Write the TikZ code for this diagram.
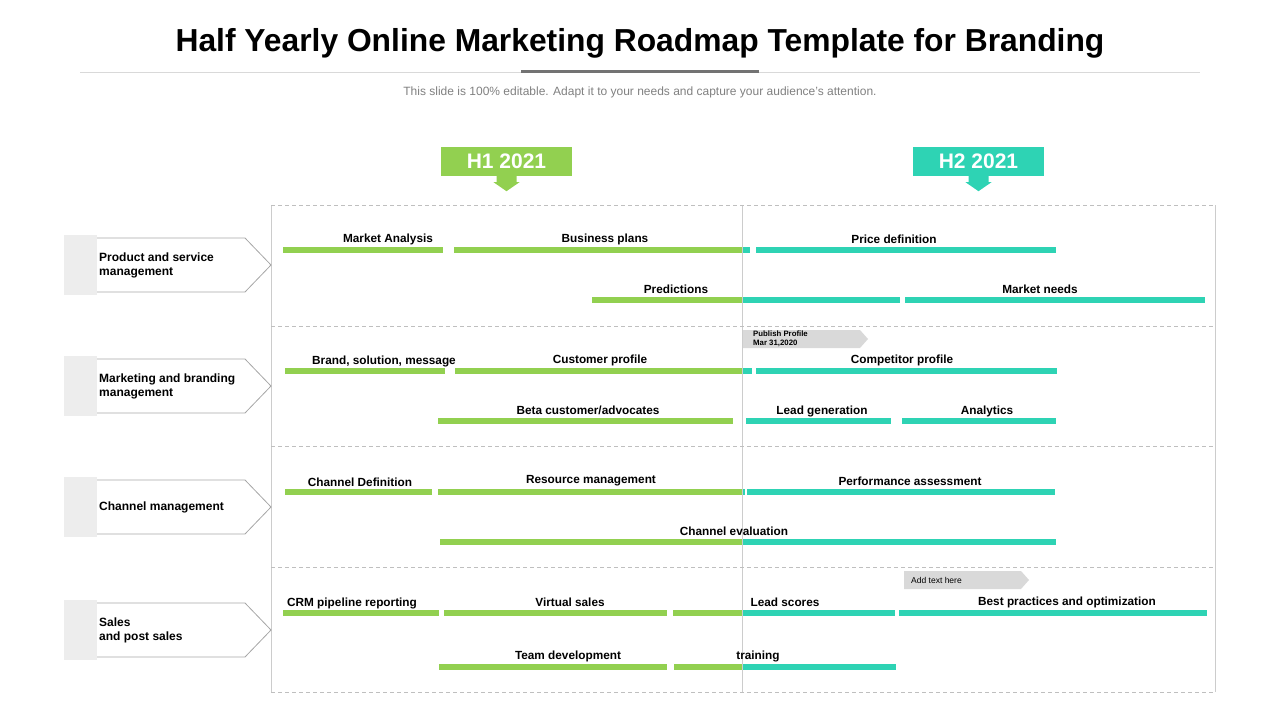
\documentclass[tikz,border=0pt]{standalone}
\usepackage{fontspec}
\setmainfont{Liberation Sans}
\usetikzlibrary{positioning}
\definecolor{hgreen}{RGB}{146,208,80}
\definecolor{hteal}{RGB}{46,211,180}
\definecolor{callgray}{RGB}{217,217,217}

\begin{document}
\begin{tikzpicture}[x=1pt,y=-1pt,
    gbar/.style={fill=hgreen,inner sep=0,minimum height=6,anchor=west},
    tbar/.style={fill=hteal,inner sep=0,minimum height=6,anchor=west},
    task/.style={font=\bfseries\fontsize{11.8}{13}\selectfont,inner sep=0},
    half/.style={text=white,font=\bfseries\fontsize{21}{24}\selectfont,minimum width=131,minimum height=29,inner sep=0},
    tab/.style={fill=black!7,minimum width=33,minimum height=60,inner sep=0,anchor=west},
    tabline/.style={draw=black!35,line width=0.8},
    rowtxt/.style={font=\bfseries\fontsize{12}{14.2}\selectfont,align=left,anchor=west,inner sep=0},
    sep/.style={draw=black!25,dash pattern=on 4pt off 3pt,line width=0.8},
    frame/.style={draw=black!20,line width=0.8},
    callout/.style={fill=callgray},
    calltxt/.style={font=\fontsize{8.5}{9.5}\selectfont,align=left,anchor=west,inner sep=0}]
    \useasboundingbox (0,0) rectangle (1280,720);

    % title
    \node[font=\bfseries\fontsize{31.8}{36}\selectfont] (title) at (640,43) {Half Yearly Online Marketing Roadmap Template for Branding};
    \draw[black!15,line width=0.8] (80,72) -- (1200,72);
    \draw[black!55,line width=3] (521,71) -- (759,71);
    \node[text=black!50,font=\fontsize{12}{14}\selectfont] (sub) at (640,92) {This slide is 100\% editable. Adapt it to your needs and capture your audience's attention.};

    % half year headers
    \node[half,fill=hgreen] (h1) at (506.5,161.5) {H1 2021};
    \node[half,fill=hteal] (h2) at (978.5,161.5) {H2 2021};
    \fill[hgreen] (h1.south) ++(-10,0) -- ++(0,6) -- ++(-3,0) -- ++(13,9) -- ++(13,-9) -- ++(-3,0) -- ++(0,-6) -- cycle;
    \fill[hteal] (h2.south) ++(-10,0) -- ++(0,6) -- ++(-3,0) -- ++(13,9) -- ++(13,-9) -- ++(-3,0) -- ++(0,-6) -- cycle;

    % grid
    \draw[frame] (271,205) -- (271,692);
    \draw[frame] (1215,205) -- (1215,692);
    \draw[frame] (742,205) -- (742,692);
    \draw[sep] (271,205) -- (1215,205);
    \draw[sep] (271,326) -- (1215,326);
    \draw[sep] (271,446) -- (1215,446);
    \draw[sep] (271,567) -- (1215,567);
    \draw[sep] (271,692) -- (1215,692);

    % row tabs
    \node[tab] (t1) at (64,265) {};
    \draw[tabline] (97,238) -- (245,238) -- (271,265) -- (245,292) -- (97,292);
    \node[rowtxt] (r1) at (99,265.5) {Product and service\\management};
    \node[tab] (t2) at (64,386) {};
    \draw[tabline] (97,359) -- (245,359) -- (271,386) -- (245,413) -- (97,413);
    \node[rowtxt] (r2) at (99,386.5) {Marketing and branding\\management};
    \node[tab] (t3) at (64,507) {};
    \draw[tabline] (97,480) -- (245,480) -- (271,507) -- (245,534) -- (97,534);
    \node[rowtxt] (r3) at (99,507.5) {Channel management};
    \node[tab] (t4) at (64,630) {};
    \draw[tabline] (97,603) -- (245,603) -- (271,630) -- (245,657) -- (97,657);
    \node[rowtxt] (r4) at (99,630.5) {Sales\\and post sales};

    % callouts
    \fill[callout] (743,330) -- (860,330) -- (868,339) -- (860,348) -- (743,348) -- cycle;
    \node[calltxt,font=\bfseries\fontsize{7.8}{9}\selectfont] (pub) at (753,339) {Publish Profile\\Mar 31,2020};
    \fill[callout] (904,571) -- (1021,571) -- (1029,580) -- (1021,589) -- (904,589) -- cycle;
    \node[calltxt] (add) at (911,580.5) {Add text here};

    % product and service
    \node[gbar,minimum width=160] (ma) at (283,250) {};
    \node[gbar,minimum width=288] (bp) at (454,250) {};
    \node[tbar,minimum width=7,right=0pt of bp] (bpb) {};
    \node[tbar,minimum width=300] (pd) at (756,250) {};
    \node[gbar,minimum width=150] (pr) at (592,300) {};
    \node[tbar,minimum width=157,right=0pt of pr] (prb) {};
    \node[tbar,minimum width=300] (mn) at (905,300) {};
    \node[task] (ma-t) at (388,239.5) {Market Analysis};
    \node[task] (bp-t) at (605,239.5) {Business plans};
    \node[task] (pd-t) at (894,239.5) {Price definition};
    \node[task] (pr-t) at (676,289.5) {Predictions};
    \node[task] (mn-t) at (1040,289.5) {Market needs};

    % marketing and branding
    \node[gbar,minimum width=160] (bs) at (285,371) {};
    \node[gbar,minimum width=287] (cp) at (455,371) {};
    \node[tbar,minimum width=9,right=0pt of cp] (cpb) {};
    \node[tbar,minimum width=301] (co) at (756,371) {};
    \node[gbar,minimum width=295] (bc) at (438,421) {};
    \node[tbar,minimum width=145] (lg) at (746,421) {};
    \node[tbar,minimum width=154] (an) at (902,421) {};
    \node[task] (bs-t) at (384,361) {Brand, solution, message};
    \node[task] (cp-t) at (600,360.5) {Customer profile};
    \node[task] (co-t) at (902,360.5) {Competitor profile};
    \node[task] (bc-t) at (588,410.5) {Beta customer/advocates};
    \node[task] (lg-t) at (822,411) {Lead generation};
    \node[task] (an-t) at (987,411) {Analytics};

    % channel
    \node[gbar,minimum width=147] (cd) at (285,492) {};
    \node[gbar,minimum width=304] (rm) at (438,492) {};
    \node[tbar,minimum width=2,right=0pt of rm] (rmb) {};
    \node[tbar,minimum width=308] (pa) at (747,492) {};
    \node[gbar,minimum width=302] (ce) at (440,542) {};
    \node[tbar,minimum width=313,right=0pt of ce] (ceb) {};
    \node[task] (cd-t) at (360,482) {Channel Definition};
    \node[task] (rm-t) at (591,481) {Resource management};
    \node[task] (pa-t) at (910,481) {Performance assessment};
    \node[task] (ce-t) at (734,531) {Channel evaluation};

    % sales
    \node[gbar,minimum width=156] (crm) at (283,613) {};
    \node[gbar,minimum width=223] (vs) at (444,613) {};
    \node[gbar,minimum width=69] (ls) at (673,613) {};
    \node[tbar,minimum width=152,right=0pt of ls] (lsb) {};
    \node[tbar,minimum width=308] (bpo) at (899,613) {};
    \node[gbar,minimum width=228] (td) at (439,667) {};
    \node[gbar,minimum width=68] (tr) at (674,667) {};
    \node[tbar,minimum width=153,right=0pt of tr] (trb) {};
    \node[task] (crm-t) at (352,603) {CRM pipeline reporting};
    \node[task] (vs-t) at (570,602) {Virtual sales};
    \node[task] (ls-t) at (785,602) {Lead scores};
    \node[task] (bpo-t) at (1067,602) {Best practices and optimization};
    \node[task] (td-t) at (568,656) {Team development};
    \node[task] (tr-t) at (758,656) {training};
\end{tikzpicture}
\end{document}
